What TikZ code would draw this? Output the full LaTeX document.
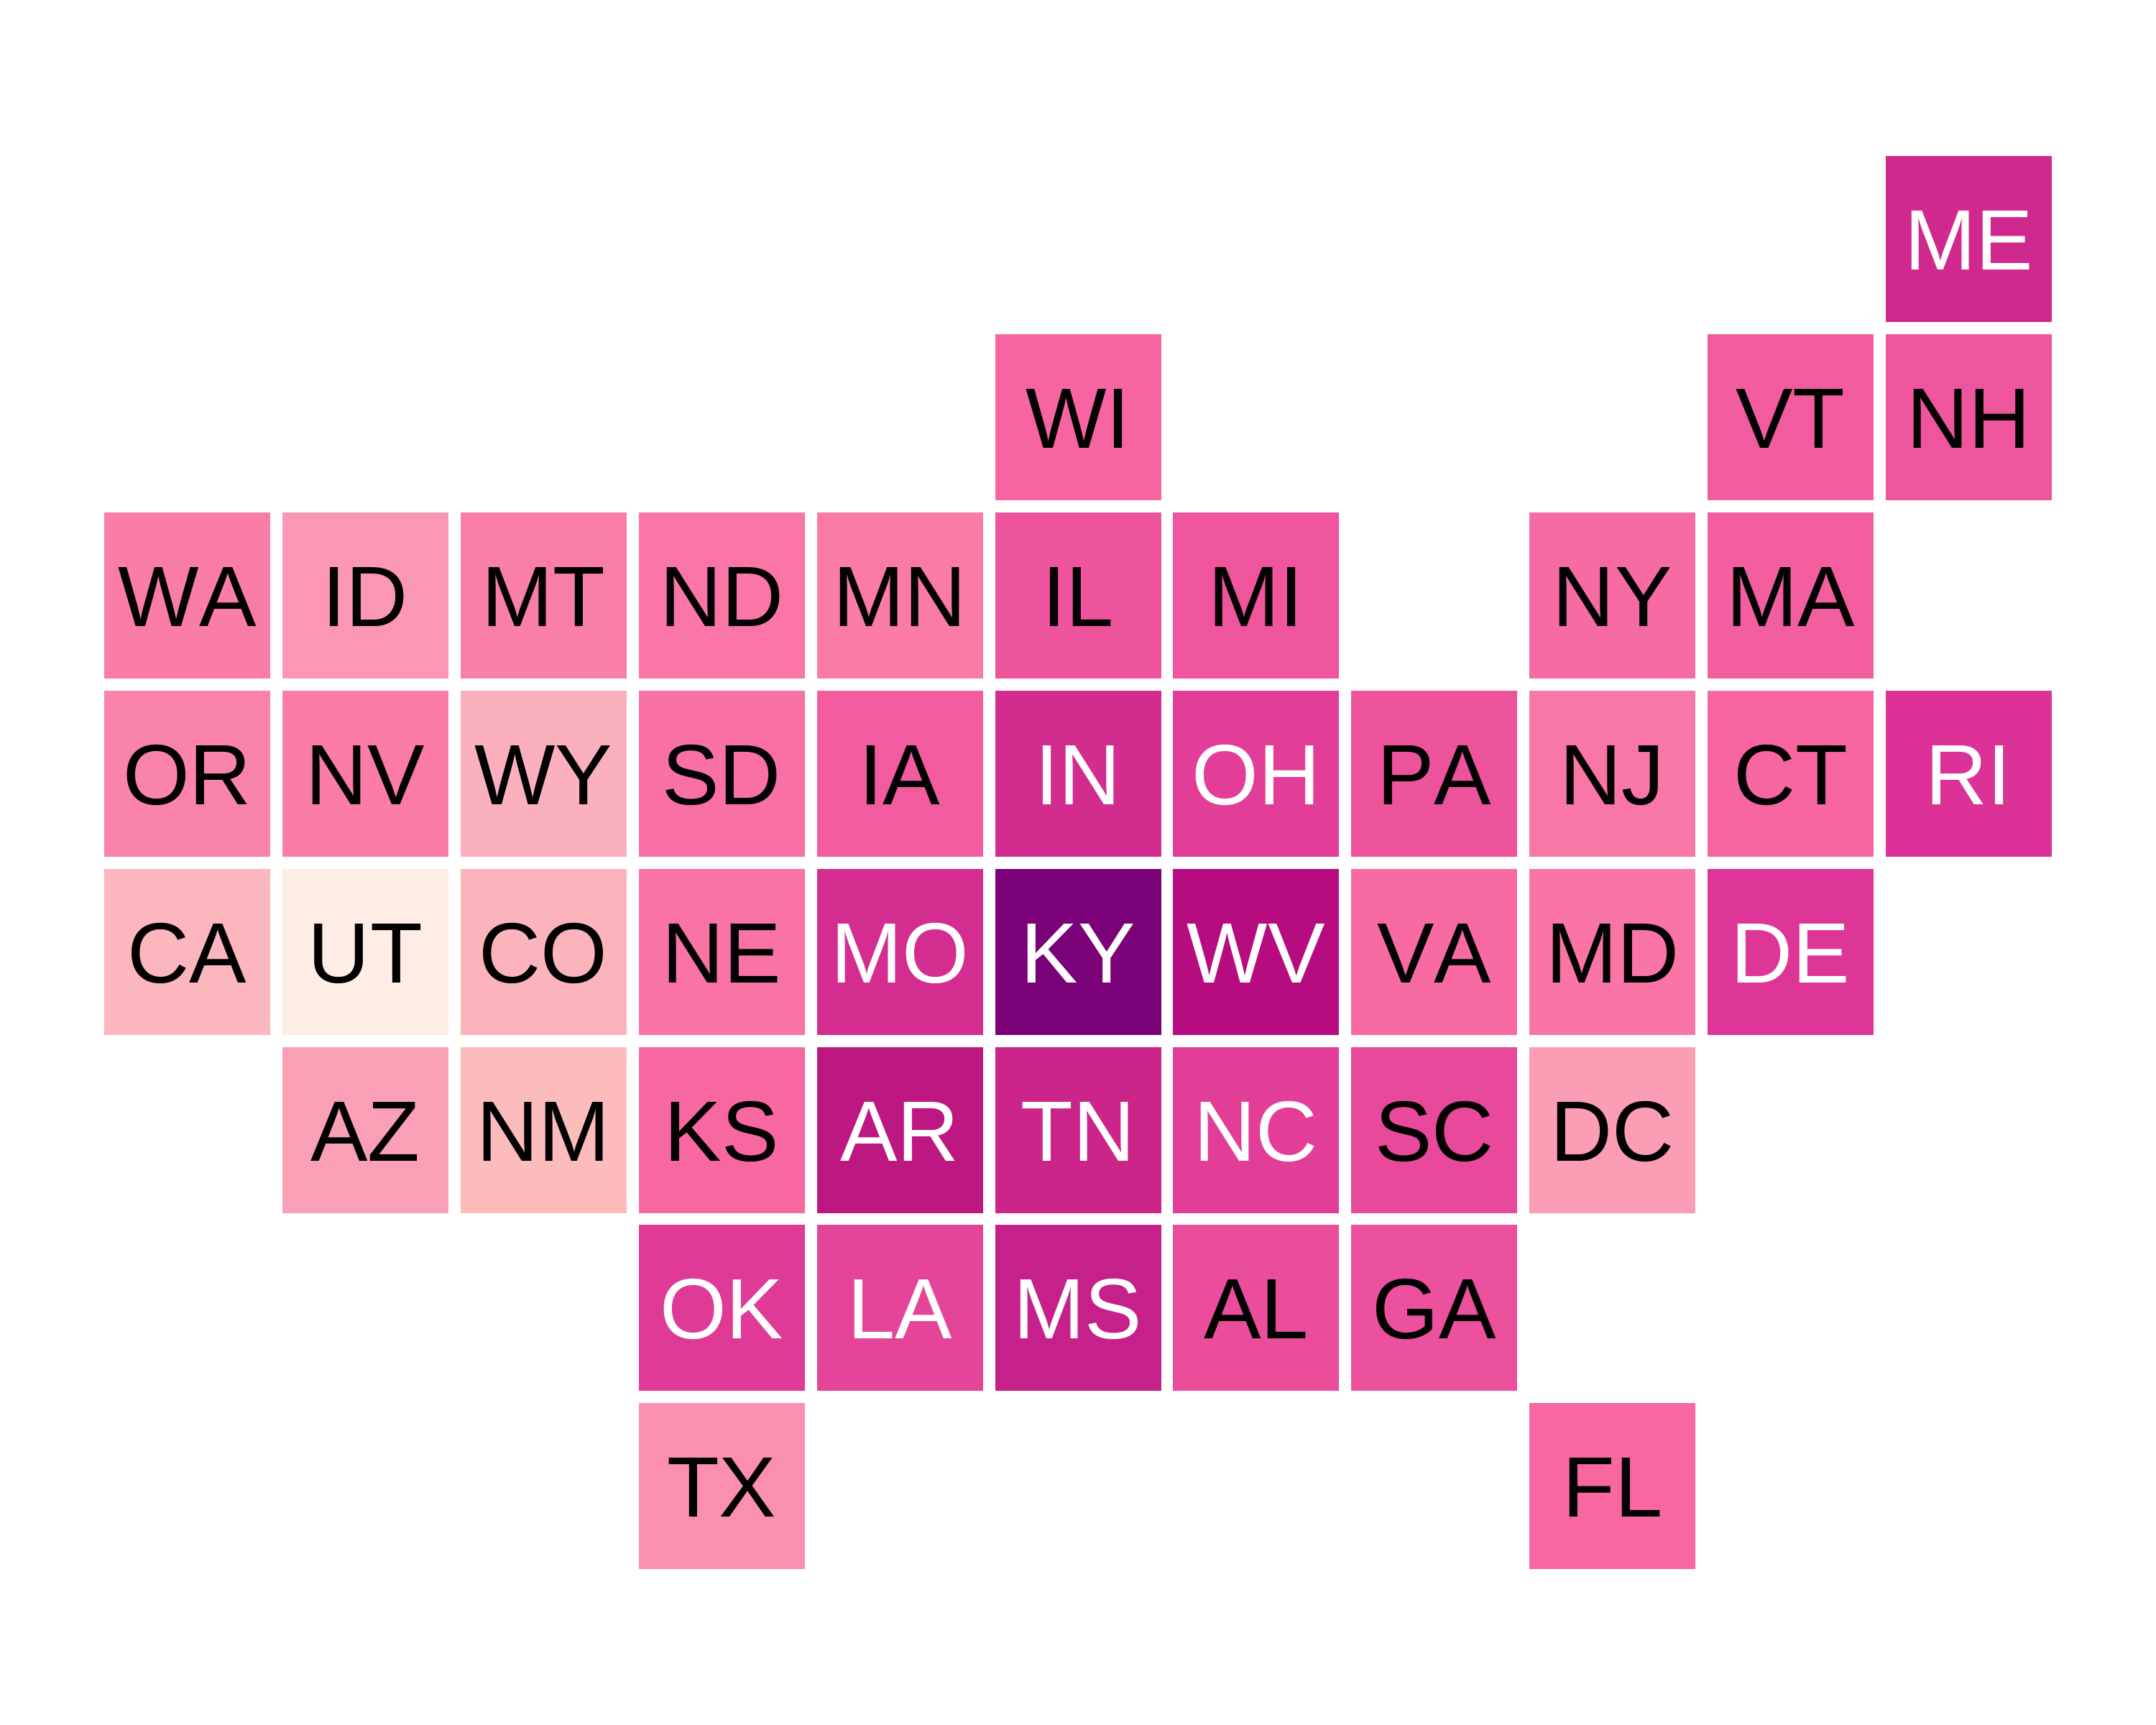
\documentclass[tikz,border=0pt]{standalone}
\usepackage{fontspec}
\setmainfont{Liberation Sans}[Kerning=Off]
\definecolor{colME}{HTML}{D0298E}
\definecolor{colWI}{HTML}{F665A1}
\definecolor{colVT}{HTML}{F25C9E}
\definecolor{colNH}{HTML}{EE559C}
\definecolor{colWA}{HTML}{FA7DA7}
\definecolor{colID}{HTML}{FA97B2}
\definecolor{colMT}{HTML}{FA7FA8}
\definecolor{colND}{HTML}{FA76A6}
\definecolor{colMN}{HTML}{F97BA6}
\definecolor{colIL}{HTML}{EE549C}
\definecolor{colMI}{HTML}{EE559C}
\definecolor{colNY}{HTML}{F76BA3}
\definecolor{colMA}{HTML}{F25E9E}
\definecolor{colOR}{HTML}{FA83A9}
\definecolor{colNV}{HTML}{FB7CA7}
\definecolor{colWY}{HTML}{FBB0BD}
\definecolor{colSD}{HTML}{F970A4}
\definecolor{colIA}{HTML}{F25C9E}
\definecolor{colIN}{HTML}{D22C8F}
\definecolor{colOH}{HTML}{E23E98}
\definecolor{colPA}{HTML}{EC539B}
\definecolor{colNJ}{HTML}{F977A6}
\definecolor{colCT}{HTML}{F766A1}
\definecolor{colRI}{HTML}{DC3297}
\definecolor{colCA}{HTML}{FCB6BD}
\definecolor{colUT}{HTML}{FDEDE4}
\definecolor{colCO}{HTML}{FCB4BC}
\definecolor{colNE}{HTML}{F973A5}
\definecolor{colMO}{HTML}{D42D90}
\definecolor{colKY}{HTML}{7A0177}
\definecolor{colWV}{HTML}{B70B80}
\definecolor{colVA}{HTML}{F86BA2}
\definecolor{colMD}{HTML}{F875A5}
\definecolor{colDE}{HTML}{DE3696}
\definecolor{colAZ}{HTML}{FAA0B6}
\definecolor{colNM}{HTML}{FDBCBC}
\definecolor{colKS}{HTML}{F768A1}
\definecolor{colAR}{HTML}{BD1782}
\definecolor{colTN}{HTML}{CB2589}
\definecolor{colNC}{HTML}{E23E98}
\definecolor{colSC}{HTML}{E8499B}
\definecolor{colDC}{HTML}{FB9DB4}
\definecolor{colOK}{HTML}{E03A97}
\definecolor{colLA}{HTML}{E54599}
\definecolor{colMS}{HTML}{C6218A}
\definecolor{colAL}{HTML}{EA4E9B}
\definecolor{colGA}{HTML}{EB519C}
\definecolor{colTX}{HTML}{FA8FAE}
\definecolor{colFL}{HTML}{F768A1}
\begin{document}
\begin{tikzpicture}[
        x=2.479cm, y=-2.479cm,
        tile/.style={minimum size=2.31cm, inner sep=0pt, text height=0.86cm, text depth=0pt,
            font=\fontsize{33.9}{40}\selectfont},
        tilelight/.style={tile, text=white}
    ]
        % Page size, origin at the centre of the top left cell
        \useasboundingbox (-2.605cm,3.325cm) rectangle (27.395cm,-20.675cm);

        % Row 0 and 1
        \node[tilelight, fill=colME] (ME) at (10,0) {ME};
        \node[tile, fill=colWI] (WI) at (5,1) {WI};
        \node[tile, fill=colVT] (VT) at (9,1) {VT};
        \node[tile, fill=colNH] (NH) at (10,1) {NH};

        % Row 2
        \node[tile, fill=colWA] (WA) at (0,2) {WA};
        \node[tile, fill=colID] (ID) at (1,2) {ID};
        \node[tile, fill=colMT] (MT) at (2,2) {MT};
        \node[tile, fill=colND] (ND) at (3,2) {ND};
        \node[tile, fill=colMN] (MN) at (4,2) {MN};
        \node[tile, fill=colIL] (IL) at (5,2) {IL};
        \node[tile, fill=colMI] (MI) at (6,2) {MI};
        \node[tile, fill=colNY] (NY) at (8,2) {NY};
        \node[tile, fill=colMA] (MA) at (9,2) {MA};

        % Row 3
        \node[tile, fill=colOR] (OR) at (0,3) {OR};
        \node[tile, fill=colNV] (NV) at (1,3) {NV};
        \node[tile, fill=colWY] (WY) at (2,3) {WY};
        \node[tile, fill=colSD] (SD) at (3,3) {SD};
        \node[tile, fill=colIA] (IA) at (4,3) {IA};
        \node[tilelight, fill=colIN] (IN) at (5,3) {IN};
        \node[tilelight, fill=colOH] (OH) at (6,3) {OH};
        \node[tile, fill=colPA] (PA) at (7,3) {PA};
        \node[tile, fill=colNJ] (NJ) at (8,3) {NJ};
        \node[tile, fill=colCT] (CT) at (9,3) {CT};
        \node[tilelight, fill=colRI] (RI) at (10,3) {RI};

        % Row 4
        \node[tile, fill=colCA] (CA) at (0,4) {CA};
        \node[tile, fill=colUT] (UT) at (1,4) {UT};
        \node[tile, fill=colCO] (CO) at (2,4) {CO};
        \node[tile, fill=colNE] (NE) at (3,4) {NE};
        \node[tilelight, fill=colMO] (MO) at (4,4) {MO};
        \node[tilelight, fill=colKY] (KY) at (5,4) {KY};
        \node[tilelight, fill=colWV] (WV) at (6,4) {WV};
        \node[tile, fill=colVA] (VA) at (7,4) {VA};
        \node[tile, fill=colMD] (MD) at (8,4) {MD};
        \node[tilelight, fill=colDE] (DE) at (9,4) {DE};

        % Row 5
        \node[tile, fill=colAZ] (AZ) at (1,5) {AZ};
        \node[tile, fill=colNM] (NM) at (2,5) {NM};
        \node[tile, fill=colKS] (KS) at (3,5) {KS};
        \node[tilelight, fill=colAR] (AR) at (4,5) {AR};
        \node[tilelight, fill=colTN] (TN) at (5,5) {TN};
        \node[tilelight, fill=colNC] (NC) at (6,5) {NC};
        \node[tile, fill=colSC] (SC) at (7,5) {SC};
        \node[tile, fill=colDC] (DC) at (8,5) {DC};

        % Row 6 and 7
        \node[tilelight, fill=colOK] (OK) at (3,6) {OK};
        \node[tilelight, fill=colLA] (LA) at (4,6) {LA};
        \node[tilelight, fill=colMS] (MS) at (5,6) {MS};
        \node[tile, fill=colAL] (AL) at (6,6) {AL};
        \node[tile, fill=colGA] (GA) at (7,6) {GA};
        \node[tile, fill=colTX] (TX) at (3,7) {TX};
        \node[tile, fill=colFL] (FL) at (8,7) {FL};
    \end{tikzpicture}
\end{document}
